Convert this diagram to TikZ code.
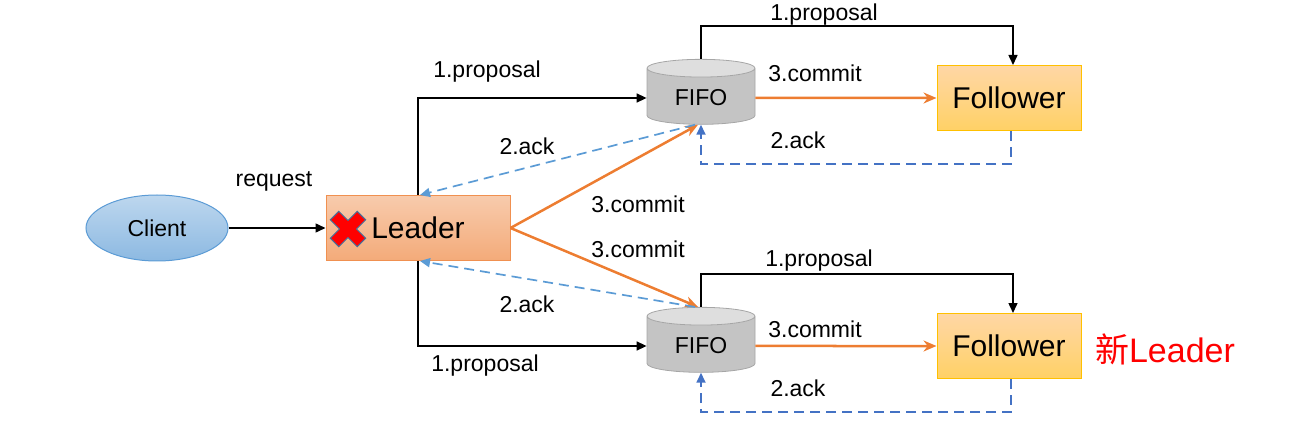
\documentclass[tikz,border=0pt]{standalone}
\usepackage{fontspec}
\setmainfont{Liberation Sans}
\newfontfamily\cjk{Noto Sans CJK SC}
\usetikzlibrary{arrows.meta,shapes.geometric}
\definecolor{commitc}{HTML}{ED7D31}
\definecolor{ackc}{HTML}{5B9BD5}
\definecolor{loopc}{HTML}{4472C4}
\definecolor{folline}{HTML}{FFC000}
\definecolor{xline}{HTML}{41719C}
\tikzset{zk/.style={x=1pt,y=-1pt,line width=1.5pt,font=\fontsize{23}{27}\selectfont},
  pline/.style={black,-{Triangle[length=10pt,width=9pt]}},
  commit/.style={commitc,line width=2.5pt,-{Stealth[length=13pt,width=11pt]}},
  ack/.style={ackc,line width=1.7pt,dash pattern=on 10pt off 6pt,-{Triangle[length=10pt,width=9pt]}},
  ackloop/.style={loopc,line width=1.7pt,dash pattern=on 10pt off 6pt,-{Triangle[length=10pt,width=9pt]}},
  fifo/.style={cylinder,shape border rotate=90,aspect=0.3,draw=black!35,line width=.8pt,
    minimum width=108pt,minimum height=65pt,cylinder uses custom fill,
    cylinder end fill=black!13,cylinder body fill=black!23},
  folbox/.style={draw=folline,line width=1pt,top color=yellow!10!orange!35,bottom color=yellow!40!orange!60,
    minimum width=144pt,minimum height=65pt,font=\fontsize{30}{34}\selectfont}}

\begin{document}
\begin{tikzpicture}[zk]
  \useasboundingbox (0,0) rectangle (1299,422);
  \node[ellipse,draw=ackc,line width=1pt,top color=ackc!40,bottom color=ackc!70,
    minimum width=142pt,minimum height=66pt,font=\fontsize{23}{27}\selectfont] (client) at (157,228) {Client};
  \node[draw=commitc!85,line width=1pt,top color=commitc!40,bottom color=commitc!65,
    minimum width=184pt,minimum height=65pt,font=\fontsize{30}{34}\selectfont] (leader) at (418,228) {Leader};
  \draw[xline,fill=red,line width=1pt,shift={(348,229)},rotate=45]
    (-6,-19) -- (6,-19) -- (6,-6) -- (19,-6) -- (19,6) -- (6,6) -- (6,19) -- (-6,19) -- (-6,6) -- (-19,6) -- (-19,-6) -- (-6,-6) -- cycle;
  \draw[pline] (client) -- (leader);
  \node (req) at (274,181) {request};
  % two followers, each behind its own FIFO
  \foreach \n/\y/\c in {A/98/-25,B/346/-17}{
    \node[fifo] (fifo\n) at (701,\y) {FIFO};
    \node[folbox] (fol\n) at (1009,\y) {Follower};
    \draw[commit] (fifo\n) -- (fol\n);
    \draw[pline] (fifo\n.north) -- ++(0,-33) -| ([xshift=4]fol\n.north);
    \draw[ackloop] ([xshift=2]fol\n.south) -- ++(0,33) -| (fifo\n.south);
    \node (c\n) at (815,\y+\c) {3.commit};
    \node (a\n) at (798,\y+42) {2.ack};
  }
  \node (pA) at (824,15) {1.proposal};
  \node (pB) at (819,261) {1.proposal};
  \draw[pline] (leader.north) |- (fifoA.west);
  \draw[pline] (leader.south) |- (fifoB.west);
  \draw[commit] (leader.east) -- ([xshift=-3]fifoA.south);
  \draw[commit] (leader.east) -- ([xshift=-3]fifoB.north);
  \draw[ack] ([xshift=-6]fifoA.south) -- ([xshift=2]leader.north);
  \draw[ack] ([xshift=-6]fifoB.north) -- ([xshift=2]leader.south);
  \node (lp1) at (487,72) {1.proposal};
  \node (lp2) at (485,366) {1.proposal};
  \node (la1) at (527,146) {2.ack};
  \node (la2) at (527,304) {2.ack};
  \node (lc1) at (638,204) {3.commit};
  \node (lc2) at (638,249) {3.commit};
  \node[red,font=\fontsize{34}{38}\selectfont] (newl) at (1165,349) {{\cjk 新}Leader};
\end{tikzpicture}
\end{document}
